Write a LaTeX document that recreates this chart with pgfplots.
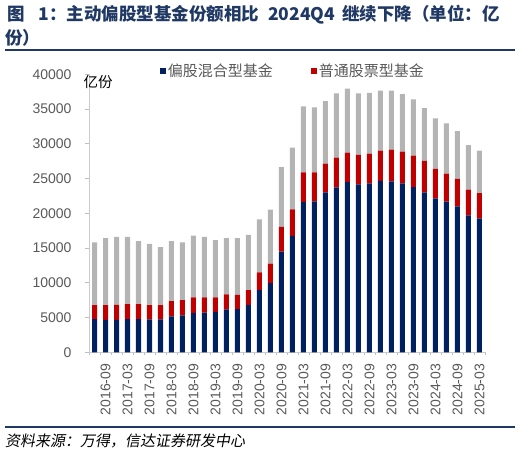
\documentclass[border=0pt]{standalone}
\usepackage{pgfplots}
\pgfplotsset{compat=1.18}
\usepackage{pgfplotstable}
\usepackage{fontspec}
\setmainfont{Liberation Sans}
\newfontfamily\cjk{Noto Sans CJK SC}
\newfontfamily\cjkit[FakeSlant=0.18]{Noto Sans CJK SC}

\definecolor{navy}{RGB}{0,32,96}
\definecolor{darkred}{RGB}{192,0,0}
\definecolor{lgrey}{RGB}{180,180,180}
\definecolor{titleblue}{RGB}{31,56,100}
\definecolor{ticktext}{RGB}{89,89,89}

% quarterly shares, 2016-06 .. 2025-03 (unit: 100 million shares)
\pgfplotstableread{
idx navy red grey
0  4770 2010 9020
1  4670 2110 9640
2  4670 2150 9800
3  4770 2150 9700
4  4770 2150 9070
5  4720 2060 8830
6  4720 2060 8350
7  5160 2190 8640
8  5300 2190 8310
9  5670 2250 8880
10 5720 2200 8700
11 5820 2100 8210
12 6160 2190 8070
13 6200 2050 8170
14 6820 2110 7970
15 8970 2530 7640
16 9970 2780 7780
17 14470 3580 8600
18 16760 3810 8890
19 21600 4270 9520
20 21720 4150 9370
21 23000 4160 8990
22 23730 4290 9230
23 24500 4240 9190
24 24160 4250 8840
25 24300 4280 8760
26 24680 4350 8620
27 24580 4570 8500
28 24300 4580 8270
29 23780 4520 8090
30 23000 4550 7590
31 22150 4250 7270
32 21680 4010 7260
33 21000 3970 6860
34 19710 3710 6380
35 19280 3640 6110
}\fundtable

\begin{document}
\begin{tikzpicture}[x=1pt,y=1pt]
\useasboundingbox (0,0) rectangle (520,457);

\begin{axis}[
  scale only axis, width=396pt, height=278pt,
  at={(89pt,104.7pt)}, anchor=south west,
  ybar stacked, bar width=5pt,
  xmin=-0.5, xmax=35.5, ymin=0, ymax=40000,
  axis x line*=bottom, axis y line*=left,
  axis line style={draw=black!20, line width=0.8pt},
  tick align=outside, major tick length=4pt, minor tick length=3pt,
  tick style={draw=black!25, line width=0.6pt},
  major x tick style={draw=none},
  ytick={0,5000,...,40000},
  scaled y ticks=false,
  /pgf/number format/assume math mode=true,
  yticklabel style={font=\fontsize{14}{16}\selectfont, text=ticktext,
    /pgf/number format/fixed, /pgf/number format/1000 sep={}},
  yticklabel shift=10pt,
  xtick={1,3,...,35},
  minor xtick={-0.5,0.5,...,35.5},
  xticklabels={2016-09,2017-03,2017-09,2018-03,2018-09,2019-03,2019-09,2020-03,2020-09,2021-03,2021-09,2022-03,2022-09,2023-03,2023-09,2024-03,2024-09,2025-03},
  xticklabel style={rotate=90, anchor=east, font=\fontsize{14}{16}\selectfont, text=ticktext},
  xticklabel shift=4pt,
  legend style={at={(0.515,1.012)}, anchor=center, draw=none, fill=none,
    legend columns=2, font=\cjk\fontsize{15}{17}\selectfont, text=ticktext,
    /tikz/every even column/.append style={column sep=36pt}},
  legend image code/.code={\fill[#1] (0pt,-3pt) rectangle (6pt,3pt);},
]
\addplot[fill=navy, draw=none] table[x=idx, y=navy] {\fundtable};
\addlegendentry{偏股混合型基金}
\addplot[fill=darkred, draw=none] table[x=idx, y=red] {\fundtable};
\addlegendentry{普通股票型基金}
\addplot[fill=lgrey, draw=none] table[x=idx, y=grey] {\fundtable};
\end{axis}

\node[anchor=west, inner sep=0, text=titleblue, font=\cjk\bfseries\fontsize{17.5}{20}\selectfont]
  at (7,442) {图\hspace{0.8em}1：主动偏股型基金份额相比\hspace{0.5em}2024Q4\hspace{0.4em}继续下降（单位：亿};
\node[anchor=west, inner sep=0, text=titleblue, font=\cjk\bfseries\fontsize{17.5}{20}\selectfont]
  at (5,419) {份）};
\draw[titleblue, line width=1.2pt] (5,407) -- (515,407);
\node[font=\cjk\fontsize{14.5}{16}\selectfont] at (98,375) {亿份};
\draw[titleblue, line width=1.3pt] (5,30) -- (515,30);
\node[anchor=west, inner sep=0, font=\cjkit\fontsize{15}{17}\selectfont]
  at (5,16) {资料来源：万得，信达证券研发中心};
\end{tikzpicture}
\end{document}
